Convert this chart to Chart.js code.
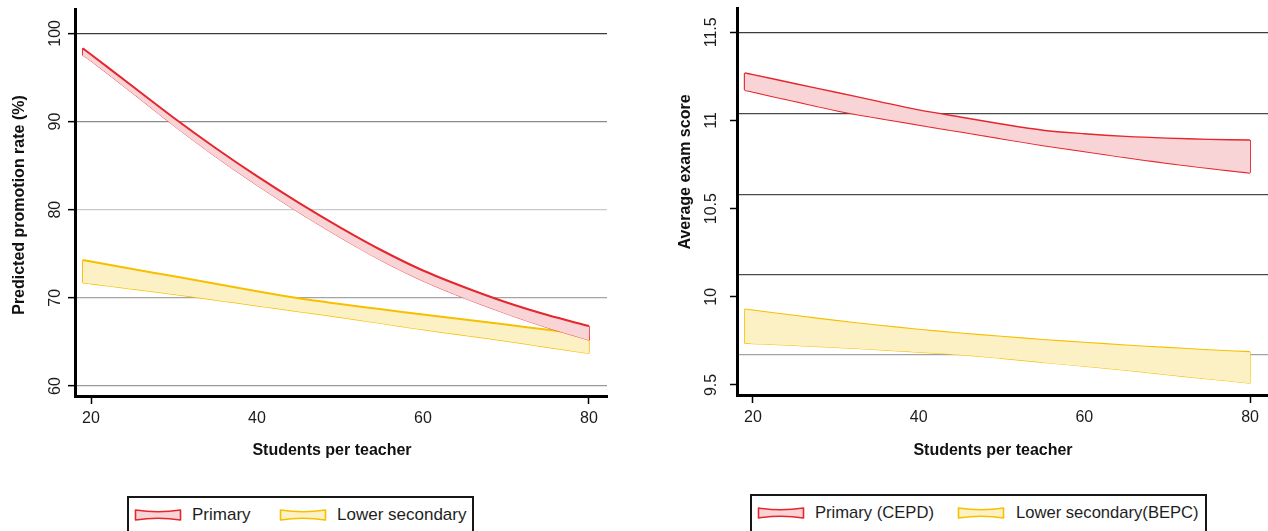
<!DOCTYPE html>
<html>
<head>
<meta charset="utf-8">
<script src="https://cdn.jsdelivr.net/npm/chart.js@4/dist/chart.umd.min.js"></script>
<style>
html,body{margin:0;padding:0;background:#fff;width:1268px;height:531px;overflow:hidden;font-family:"Liberation Sans",Arial,sans-serif;}
#w1{position:absolute;left:0;top:0;width:625px;height:470px;}
#w2{position:absolute;left:640px;top:0;width:628px;height:470px;}
.legend{position:absolute;border:2px solid #161616;border-bottom:none;box-sizing:border-box;height:45px;color:#1e1e1e;}
.item{position:absolute;top:5px;height:24px;display:flex;align-items:center;white-space:nowrap;}
.item svg{display:block;}
</style>
</head>
<body>
<div id="w1"><canvas id="c1"></canvas></div>
<div id="w2"><canvas id="c2"></canvas></div>

<div class="legend" id="lg1" style="left:127px;top:496px;width:347px;font-size:17px;"></div>
<div class="legend" id="lg2" style="left:750px;top:494px;width:457px;font-size:16.6px;"></div>

<script>
// ---------- data ----------
const students = [19, 20, 25, 30, 35, 40, 45, 50, 55, 60, 65, 70, 75, 80];

// Left panel: predicted promotion rate (%)
const primaryUpper = [98.3, 97.6, 94.0, 90.4, 87.0, 83.8, 80.8, 78.0, 75.4, 73.1, 71.2, 69.5, 68.05, 66.8];
const primaryLower = [97.5, 96.85, 93.2, 89.5, 86.0, 82.75, 79.7, 76.85, 74.2, 71.9, 69.95, 68.2, 66.6, 65.2];
const lowerSecUpper = [74.3, 74.13, 73.28, 72.44, 71.6, 70.74, 69.95, 69.3, 68.7, 68.12, 67.55, 66.97, 66.38, 65.8];
const lowerSecLower = [71.7, 71.6, 71.0, 70.4, 69.75, 69.1, 68.45, 67.8, 67.1, 66.4, 65.75, 65.1, 64.4, 63.7];

// Right panel: average exam score
const cepdUpper = [11.27, 11.26, 11.21, 11.16, 11.11, 11.06, 11.02, 10.98, 10.945, 10.925, 10.91, 10.90, 10.893, 10.889];
const cepdLower = [11.173, 11.163, 11.110, 11.058, 11.015, 10.976, 10.937, 10.898, 10.860, 10.826, 10.791, 10.759, 10.730, 10.704];
const bepcUpper = [9.931, 9.925, 9.895, 9.866, 9.840, 9.816, 9.795, 9.776, 9.758, 9.742, 9.727, 9.713, 9.700, 9.689];
const bepcLower = [9.736, 9.734, 9.724, 9.713, 9.700, 9.686, 9.672, 9.651, 9.628, 9.606, 9.583, 9.558, 9.534, 9.510];

// Ticks
const xTicks = [20, 40, 60, 80];
const yTicksLeft = [60, 70, 80, 90, 100];
const yTickLabelsLeft = ['60', '70', '80', '90', '100'];
const yTicksRight = [9.5, 10, 10.5, 11, 11.5];
const yTickLabelsRight = ['9.5', '10', '10.5', '11', '11.5'];
const gridValuesRight = [9.674, 10.128, 10.581, 11.041, 11.5];

const legendLeft = ['Primary', 'Lower secondary'];
const legendRight = ['Primary (CEPD)', 'Lower secondary(BEPC)'];

// ---------- styles ----------
const FONT = '"Liberation Sans", Arial, sans-serif';
const RED = '#e5262d', PINK = '#f8d4d6';
const GOLD = '#f6c000', PALE = '#fcf1c4';
const gridColorsLeft = ['#9a9a9a', '#a4a4a4', '#c9c9c9', '#8c8c8c', '#3c3c3c'];
const gridColorsRight = ['#a3a3a3', '#4a4a4a', '#4a4a4a', '#4a4a4a', '#3c3c3c'];

function band(xs, up, lo, fill, upC, upW, loC, loW, capW) {
  const n = xs.length - 1;
  return [
    {data: xs.map((x, i) => ({x, y: up[i]})), borderColor: upC, borderWidth: upW,
     backgroundColor: fill, fill: '+1', pointRadius: 0, tension: 0.3},
    {data: xs.map((x, i) => ({x, y: lo[i]})), borderColor: loC, borderWidth: loW,
     fill: false, pointRadius: 0, tension: 0.3},
    {data: [{x: xs[0], y: up[0]}, {x: xs[0], y: lo[0]}, {x: xs[0], y: null},
            {x: xs[n], y: up[n]}, {x: xs[n], y: lo[n]}],
     borderColor: upC, borderWidth: capW, fill: false, pointRadius: 0, tension: 0, spanGaps: false}
  ];
}

const axisText = {
  id: 'axisText',
  afterDraw(chart, args, o) {
    const ctx = chart.ctx, ys = chart.scales.y;
    ctx.save();
    ctx.fillStyle = '#1c1c1c';
    ctx.textAlign = 'center';
    ctx.textBaseline = 'middle';
    ctx.font = '16px ' + FONT;
    ys.ticks.forEach((t, i) => {
      const py = ys.getPixelForValue(t.value);
      ctx.save();
      ctx.translate(o.labelX, py);
      ctx.rotate(-Math.PI / 2);
      ctx.fillText(o.labels[i], 0, 0);
      ctx.restore();
    });
    ctx.fillStyle = '#111';
    ctx.font = 'bold 16px ' + FONT;
    ctx.save();
    ctx.translate(o.yTitleX, o.yTitleY);
    ctx.rotate(-Math.PI / 2);
    ctx.fillText(o.yTitle, 0, 0);
    ctx.restore();
    ctx.fillText(o.xTitle, o.xTitleX, o.xTitleY);
    ctx.restore();
  }
};

const xMin = 18.07, xMax = 82.17;

function xScale(h) {
  return {
    type: 'linear', min: xMin, max: xMax,
    afterBuildTicks: s => { s.ticks = xTicks.map(v => ({value: v})); },
    afterFit: s => { s.height = h; },
    grid: {drawOnChartArea: false, drawTicks: true, tickLength: 8, tickWidth: 1.5,
           tickColor: c => (c.index === 0 || c.index === xTicks.length - 1) ? '#000' : 'rgba(0,0,0,0)'},
    border: {display: true, color: '#000', width: 3},
    ticks: {font: {size: 16, family: FONT}, color: '#1c1c1c', padding: 5, maxRotation: 0, autoSkip: false}
  };
}

const common = {
  responsive: true, maintainAspectRatio: false, animation: false,
  events: [],
};

// ---------- left chart ----------
new Chart(document.getElementById('c1'), {
  type: 'line',
  data: {datasets: [
    ...band(students, primaryUpper, primaryLower, PINK, RED, 2, '#ec5a5f', 1, 1.5),
    ...band(students, lowerSecUpper, lowerSecLower, PALE, GOLD, 2, GOLD, 1.3, 1.5)
  ]},
  options: {
    ...common,
    layout: {padding: {top: 9, right: 18, left: 0, bottom: 0}},
    plugins: {
      legend: {display: false}, tooltip: {enabled: false},
      axisText: {labels: yTickLabelsLeft, labelX: 56, yTitle: 'Predicted promotion rate (%)',
                 yTitleX: 20, yTitleY: 205, xTitle: 'Students per teacher', xTitleX: 332, xTitleY: 451}
    },
    scales: {
      x: xScale(74),
      y: {
        min: 58.87, max: 102.76,
        afterBuildTicks: s => { s.ticks = yTicksLeft.map(v => ({value: v})); },
        afterFit: s => { s.width = 75; },
        grid: {color: c => gridColorsLeft[c.index], lineWidth: 1.3, drawTicks: true,
               tickLength: 7, tickWidth: 1.5, tickColor: '#000'},
        border: {display: true, color: '#000', width: 3},
        ticks: {display: false}
      }
    }
  },
  plugins: [axisText]
});

// ---------- right chart ----------
new Chart(document.getElementById('c2'), {
  type: 'line',
  data: {datasets: [
    ...band(students, cepdUpper, cepdLower, PINK, RED, 1.4, RED, 2, 1.8),
    ...band(students, bepcUpper, bepcLower, PALE, GOLD, 1.1, GOLD, 1.1, 1.2)
  ]},
  options: {
    ...common,
    layout: {padding: {top: 8, right: 0, left: 0, bottom: 0}},
    plugins: {
      legend: {display: false}, tooltip: {enabled: false},
      axisText: {labels: yTickLabelsRight, labelX: 72, yTitle: 'Average exam score',
                 yTitleX: 46, yTitleY: 172, xTitle: 'Students per teacher', xTitleX: 353, xTitleY: 451}
    },
    scales: {
      x: xScale(75),
      y: {
        min: 9.443, max: 11.638,
        afterBuildTicks: s => { s.ticks = yTicksRight.map(v => ({value: v})); },
        afterFit: s => { s.width = 97; },
        grid: {drawOnChartArea: false, drawTicks: true, tickLength: 7, tickWidth: 1.5, tickColor: '#000'},
        border: {display: true, color: '#000', width: 3},
        ticks: {display: false}
      },
      yg: {
        position: 'left', min: 9.443, max: 11.638,
        afterBuildTicks: s => { s.ticks = gridValuesRight.map(v => ({value: v})); },
        afterFit: s => { s.width = 0; },
        grid: {color: c => gridColorsRight[c.index], lineWidth: 1.3, drawTicks: false},
        border: {display: false},
        ticks: {display: false}
      }
    }
  },
  plugins: [axisText]
});

// ---------- legends ----------
function swatch(fill, stroke) {
  return '<svg width="48" height="14" viewBox="0 0 48 14"><path d="M1.5,2 Q24,5.5 46.5,2 L46.5,12 Q24,8.5 1.5,12 Z" fill="' +
    fill + '" stroke="' + stroke + '" stroke-width="1.6" stroke-linejoin="round"/></svg>';
}
function legend(el, names, pos) {
  const cols = [[PINK, RED], [PALE, GOLD]];
  el.innerHTML = names.map((n, i) =>
    '<div class="item" style="left:' + pos[i][0] + 'px">' + swatch(cols[i][0], cols[i][1]) + '</div>' +
    '<div class="item" style="left:' + pos[i][1] + 'px">' + n + '</div>').join('');
}
legend(document.getElementById('lg1'), legendLeft, [[5, 63], [150, 208]]);
legend(document.getElementById('lg2'), legendRight, [[5, 63], [205, 264]]);
</script>
</body>
</html>
